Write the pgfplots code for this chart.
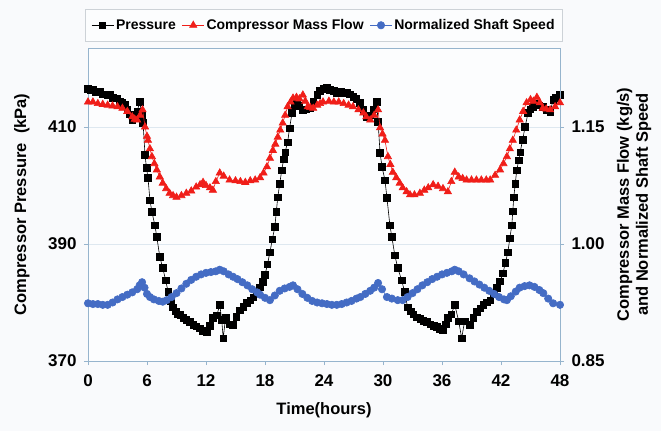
\documentclass[border=0pt]{standalone}
\usepackage{fontspec}
\setmainfont{Liberation Sans}
\usepackage{pgfplots}
\pgfplotsset{compat=1.18}

\definecolor{bgcol}{RGB}{249,250,252}
\definecolor{plotbg}{RGB}{252,253,254}
\definecolor{axcol}{RGB}{150,180,205}
\definecolor{gridcol}{RGB}{222,232,240}
\definecolor{legcol}{RGB}{205,210,215}
\definecolor{flowred}{RGB}{240,30,25}
\definecolor{speedblue}{RGB}{68,108,196}

\newcommand\tickfont{\bfseries\fontsize{17}{17}\selectfont}
\newcommand\labfont{\bfseries\fontsize{16.5}{19}\selectfont}

\pgfplotsset{
  common/.style={
    scale only axis,
    width=472pt, height=313pt,
    xmin=0, xmax=48,
    tick label style={font=\tickfont},
    /pgf/number format/assume math mode=true,
    label style={font=\labfont},
    axis line style={axcol, line width=0.8pt},
    tick style={axcol, line width=0.6pt},
    major tick length=4pt,
    tick align=outside,
  },
}

\begin{document}
\begin{tikzpicture}[x=1pt,y=1pt]
\path[use as bounding box, fill=bgcol] (-88,-70) rectangle (573,361);

\begin{axis}[
  common,
  axis background/.style={fill=plotbg},
  ymin=370, ymax=423.5,
  xtick={0,6,...,48},
  ytick={370,390,410},
  ymajorgrids,
  grid style={gridcol, line width=0.6pt},
  xtick pos=bottom, ytick pos=left,
  xticklabel style={yshift=-6pt},
  yticklabel style={xshift=-4pt},
  xlabel={Time(hours)},
  ylabel={Compressor Pressure\ \ (kPa)},
  xlabel style={at={(axis description cs:0.5,-0.157)}, anchor=center},
  ylabel style={at={(axis description cs:-0.14,0.5)}, anchor=center},
]
\addplot[black, line width=0.6pt, mark=square*, mark size=3.3pt,
  mark options={solid, fill=black}] coordinates {
(0.0,416.5) (0.25,416.3) (0.5,416.4) (0.75,416.0) (1.0,415.9) (1.25,416.0)
(1.5,415.6) (1.75,415.6) (2.0,415.4) (2.25,415.5) (2.5,415.0) (2.75,414.9)
(3.0,414.9) (3.25,414.4) (3.5,414.1) (3.75,413.8) (4.0,413.0) (4.25,412.2)
(4.5,411.2) (4.75,411.6) (5.0,412.6) (5.25,414.3) (5.5,412.0) (5.6,410.7)
(5.8,405.2) (5.95,403.0) (6.1,401.3) (6.3,397.5) (6.5,395.5) (6.8,393.2)
(7.0,391.2) (7.3,387.8) (7.6,385.9) (7.9,383.8) (8.15,381.8) (8.4,380.3)
(8.65,379.2) (8.9,378.5) (9.15,378.0) (9.4,377.9) (9.7,377.4) (10.0,377.0)
(10.35,376.7) (10.7,376.2) (11.0,375.9) (11.4,375.6) (11.7,375.2) (12.1,375.0)
(12.4,376.0) (12.7,377.4) (13.1,377.8) (13.4,379.6) (13.6,377.0) (13.75,373.9)
(14.0,377.5) (14.4,376.3) (14.75,376.2) (15.1,377.6) (15.45,378.7) (15.8,379.3)
(16.15,379.9) (16.5,380.4) (16.8,380.9) (17.1,381.7) (17.5,382.6) (17.8,383.5)
(18.0,384.7) (18.25,386.5) (18.5,388.6) (18.75,390.8) (19.0,392.9) (19.15,395.5)
(19.3,398.0) (19.5,400.3) (19.7,402.6) (19.9,404.5) (20.05,405.7) (20.3,407.4)
(20.5,409.8) (20.75,412.4) (21.0,413.5) (21.25,414.1) (21.5,413.6) (21.85,412.9)
(22.2,413.0) (22.55,413.2) (22.9,414.3) (23.3,415.5) (23.6,416.2) (24.0,416.5)
(24.3,416.7) (24.6,416.4) (25.0,416.2) (25.3,415.8) (25.7,416.0) (26.0,415.8)
(26.3,415.9) (26.65,415.6) (27.0,415.2) (27.3,414.8) (27.65,414.1) (28.0,412.9)
(28.35,411.7) (28.7,412.0) (29.0,413.0) (29.35,414.3) (29.5,410.9) (29.7,405.6)
(29.9,403.2) (30.2,400.9) (30.4,397.9) (30.7,393.2) (30.9,391.2) (31.2,388.1)
(31.5,385.9) (31.9,383.8) (32.2,381.8) (32.5,379.2) (32.8,378.5) (33.1,378.0)
(33.45,377.5) (33.8,377.2) (34.1,376.9) (34.45,376.7) (34.8,376.3) (35.15,376.0)
(35.5,375.8) (35.8,375.5) (36.1,375.3) (36.4,376.3) (36.6,377.4) (36.95,378.0)
(37.3,379.6) (37.7,376.8) (38.0,373.9) (38.3,376.8) (38.85,376.2) (39.2,377.4)
(39.55,378.4) (39.9,379.0) (40.2,379.6) (40.55,380.0) (40.9,380.4) (41.25,381.4)
(41.6,382.5) (41.9,383.6) (42.2,385.0) (42.45,386.8) (42.7,388.6) (42.9,391.0)
(43.1,393.2) (43.2,395.6) (43.3,398.0) (43.45,400.3) (43.6,402.6) (43.8,404.3)
(43.95,405.7) (44.2,407.8) (44.45,410.0) (44.75,412.4) (45.0,413.0) (45.25,413.4)
(45.6,414.0) (45.9,413.7) (46.25,413.4) (46.6,412.9) (47.0,412.6) (47.3,414.6)
(47.6,415.0) (48.0,415.5)
};
\end{axis}

\begin{axis}[
  common,
  ymin=0.85, ymax=1.25125,
  axis x line=none,
  axis y line*=right,
  ytick={0.85,1.00,1.15},
  yticklabel style={xshift=4pt, /pgf/number format/.cd, fixed, fixed zerofill, precision=2},
  ylabel={Compressor Mass Flow (kg/s)\\and Normalized Shaft Speed},
  ylabel style={align=center, at={(axis description cs:1.157,0.5)}, anchor=center},
  legend columns=3,
  legend style={at={(0.5,1)}, anchor=south, yshift=6pt,
    draw=legcol, fill=plotbg, line width=0.8pt,
    font=\bfseries\fontsize{14}{15}\selectfont,
    inner xsep=6pt, inner ysep=8.5pt,
    /tikz/every even column/.append style={column sep=4pt}},
  legend image code/.code={
    \draw[mark repeat=2, mark phase=2] plot coordinates {(0pt,0pt) (11pt,0pt) (22pt,0pt)};
  },
]
\addlegendimage{black, line width=0.6pt, mark=square*, mark size=3pt, mark options={fill=black}}
\addlegendentry{Pressure}
\addplot[flowred, line width=0.6pt, mark=triangle*, mark size=4.2pt,
  mark options={solid, fill=flowred}] coordinates {
(0.0,1.182) (0.5,1.182) (1.0,1.180) (1.5,1.179) (2.0,1.178) (2.5,1.177)
(3.0,1.176) (3.5,1.174) (4.0,1.170) (4.5,1.163) (4.75,1.160) (5.0,1.159)
(5.3,1.165) (5.55,1.172) (5.8,1.150) (6.0,1.138) (6.1,1.133) (6.3,1.122)
(6.5,1.112) (6.75,1.103) (7.0,1.095) (7.3,1.086) (7.6,1.078) (7.95,1.071)
(8.3,1.065) (8.65,1.062) (9.0,1.060) (9.5,1.062) (10.0,1.065) (10.5,1.068)
(11.0,1.073) (11.4,1.076) (11.7,1.079) (12.0,1.075) (12.4,1.072) (12.7,1.069)
(13.0,1.080) (13.4,1.091) (13.8,1.087) (14.4,1.082) (15.0,1.081) (15.5,1.080)
(16.0,1.079) (16.5,1.081) (17.0,1.082) (17.5,1.085) (17.85,1.091) (18.2,1.099)
(18.5,1.110) (18.8,1.120) (19.05,1.128) (19.3,1.137) (19.55,1.146) (19.8,1.155)
(20.05,1.165) (20.3,1.176) (20.6,1.182) (20.85,1.187) (21.2,1.188) (21.5,1.186)
(21.85,1.191) (22.1,1.183) (22.35,1.176) (22.6,1.175) (22.9,1.174) (23.3,1.178)
(23.6,1.180) (23.9,1.182) (24.5,1.183) (25.0,1.182) (25.5,1.182) (26.0,1.180)
(26.5,1.178) (26.95,1.176) (27.5,1.172) (28.0,1.168) (28.3,1.163) (28.7,1.159)
(29.1,1.165) (29.5,1.172) (29.7,1.149) (29.95,1.141) (30.2,1.133) (30.5,1.112)
(30.75,1.102) (31.0,1.092) (31.35,1.085) (31.7,1.078) (32.0,1.072) (32.4,1.067)
(32.75,1.063) (33.2,1.063) (33.75,1.065) (34.2,1.069) (34.6,1.072) (35.1,1.076)
(35.6,1.074) (36.1,1.071) (36.6,1.067) (36.95,1.080) (37.3,1.092) (37.7,1.086)
(38.1,1.084) (38.5,1.082) (39.0,1.082) (39.5,1.082) (40.0,1.082) (40.5,1.082)
(40.9,1.082) (41.4,1.088) (41.9,1.095) (42.25,1.103) (42.6,1.112) (42.9,1.122)
(43.2,1.133) (43.55,1.146) (43.9,1.159) (44.25,1.170) (44.6,1.181) (45.0,1.185)
(45.3,1.183) (45.65,1.188) (45.95,1.181) (46.25,1.174) (46.6,1.173) (47.0,1.172)
(47.5,1.176) (48.0,1.181)
};
\addlegendentry{Compressor Mass Flow}
\addplot[speedblue, line width=0.6pt, mark=*, mark size=3.7pt,
  mark options={solid, fill=speedblue}] coordinates {
(0.0,0.924) (0.5,0.923) (1.0,0.923) (1.5,0.922) (2.0,0.922) (2.5,0.925)
(3.0,0.929) (3.5,0.932) (4.0,0.935) (4.5,0.938) (5.0,0.942) (5.25,0.947)
(5.5,0.951) (5.75,0.944) (6.0,0.936) (6.3,0.932) (6.7,0.929) (7.2,0.927)
(7.6,0.926) (8.0,0.928) (8.5,0.932) (9.0,0.937) (9.5,0.943) (10.0,0.949)
(10.5,0.954) (11.0,0.958) (11.5,0.961) (12.0,0.963) (12.5,0.964) (13.0,0.965)
(13.4,0.967) (13.8,0.965) (14.3,0.961) (14.75,0.958) (15.2,0.955) (15.7,0.951)
(16.2,0.947) (16.7,0.942) (17.2,0.938) (17.5,0.935) (18.0,0.931) (18.5,0.928)
(19.0,0.934) (19.5,0.940) (20.0,0.943) (20.5,0.945) (20.85,0.947) (21.3,0.942)
(21.8,0.936) (22.3,0.931) (22.8,0.927) (23.3,0.925) (23.8,0.924) (24.3,0.923)
(24.8,0.922) (25.3,0.922) (25.8,0.923) (26.3,0.925) (26.8,0.927) (27.3,0.930)
(27.7,0.932) (28.2,0.936) (28.7,0.940) (29.1,0.944) (29.5,0.950) (29.9,0.942)
(30.4,0.932) (30.9,0.930) (31.5,0.928) (32.0,0.928) (32.5,0.932) (33.0,0.937)
(33.5,0.942) (34.0,0.947) (34.5,0.951) (35.0,0.955) (35.5,0.958) (36.0,0.961)
(36.5,0.963) (37.0,0.965) (37.3,0.967) (37.7,0.965) (38.2,0.961) (38.8,0.956)
(39.3,0.952) (39.8,0.948) (40.3,0.944) (40.8,0.940) (41.3,0.936) (41.8,0.932)
(42.3,0.929) (42.6,0.928) (43.0,0.933) (43.5,0.939) (43.9,0.944) (44.4,0.946)
(44.9,0.947) (45.4,0.945) (45.9,0.941) (46.3,0.937) (46.8,0.930) (47.3,0.924)
(48.0,0.922)
};
\addlegendentry{Normalized Shaft Speed}
\end{axis}
\end{tikzpicture}
\end{document}
